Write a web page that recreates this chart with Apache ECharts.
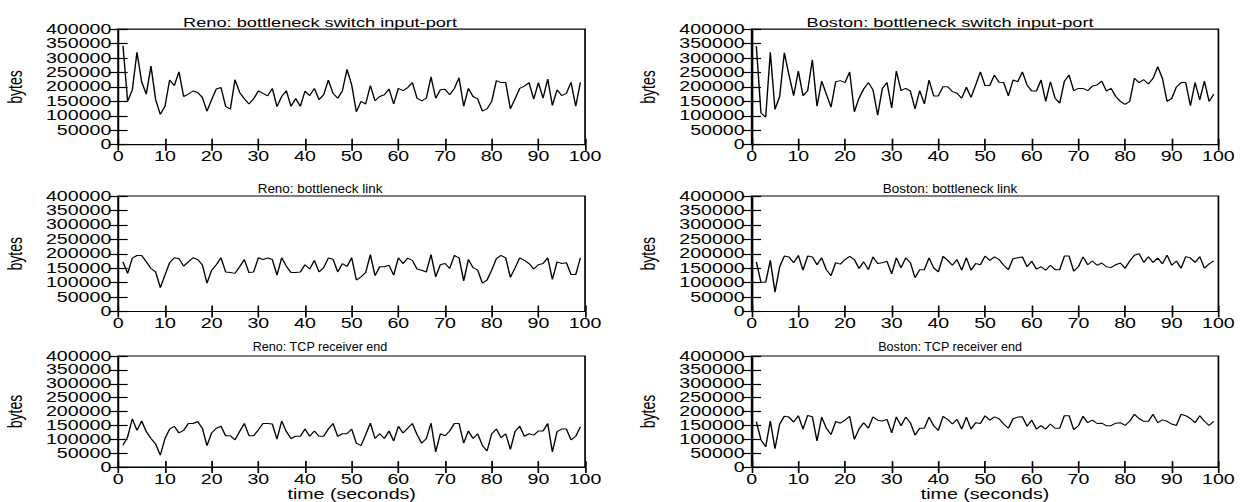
<!DOCTYPE html>
<html><head><meta charset="utf-8">
<script src="https://cdn.jsdelivr.net/npm/echarts@6/dist/echarts.min.js"></script>
<style>
html,body{margin:0;padding:0;background:#fff;overflow:hidden;}
#wrap{width:1247px;height:502px;overflow:hidden;position:relative;}
#chart{width:890.714px;height:502px;transform:scaleX(1.4);transform-origin:0 0;}
</style></head><body><div id="wrap"><div id="chart"></div></div>
<script>
// ---- data ----
const times = Array.from({length: 99}, (_, i) => i + 1);
const xTicks = [0,10,20,30,40,50,60,70,80,90,100];
const yTicks = [0,50000,100000,150000,200000,250000,300000,350000,400000];
const titles = [
  'Reno: bottleneck switch input-port', 'Boston: bottleneck switch input-port',
  'Reno: bottleneck link', 'Boston: bottleneck link',
  'Reno: TCP receiver end', 'Boston: TCP receiver end'
];
const renoSwitch = [343000,150000,190000,320000,218000,175000,272000,156000,105000,133000,
224000,205000,252000,167000,175000,186000,181000,164000,116000,156000,
193000,198000,133000,123000,225000,181000,159000,141000,159000,186000,
178000,169000,195000,132000,167000,187000,133000,160000,133000,186000,
170000,195000,156000,173000,224000,178000,161000,186000,261000,207000,
114000,150000,141000,205000,152000,167000,173000,193000,141000,195000,
187000,198000,215000,161000,152000,161000,235000,161000,190000,192000,
173000,195000,232000,133000,195000,167000,159000,116000,124000,150000,
222000,215000,215000,124000,159000,195000,203000,215000,158000,215000,
161000,227000,136000,190000,170000,178000,216000,133000,216000];
const bostonSwitch = [341000,110000,95000,320000,122000,167000,318000,241000,170000,255000,
170000,187000,294000,133000,220000,175000,130000,218000,222000,215000,
252000,114000,161000,193000,215000,190000,102000,195000,215000,127000,
255000,187000,195000,186000,124000,187000,141000,224000,169000,169000,
201000,201000,184000,178000,161000,199000,164000,207000,252000,205000,
205000,241000,216000,215000,169000,224000,218000,252000,207000,186000,
186000,224000,150000,218000,161000,144000,220000,241000,187000,195000,
195000,187000,203000,207000,220000,186000,195000,167000,150000,140000,
150000,230000,215000,225000,210000,230000,270000,230000,150000,160000,
200000,215000,215000,135000,215000,155000,220000,150000,175000];
const renoLink = [172000,132000,185000,194000,194000,172000,149000,137000,83000,126000,
169000,186000,183000,157000,172000,186000,180000,162000,98000,143000,
162000,186000,137000,135000,132000,155000,180000,135000,137000,186000,
180000,185000,180000,126000,186000,157000,135000,135000,137000,162000,
147000,177000,137000,152000,185000,181000,137000,166000,156000,186000,
109000,120000,135000,197000,124000,155000,155000,160000,126000,186000,
166000,185000,177000,147000,143000,137000,197000,120000,162000,166000,
149000,194000,186000,106000,180000,152000,143000,98000,109000,143000,
183000,194000,186000,118000,151000,186000,177000,166000,147000,162000,
166000,186000,111000,172000,166000,169000,128000,128000,186000];
const bostonLink = [172000,101000,101000,177000,67000,155000,192000,189000,169000,194000,
143000,192000,189000,162000,186000,145000,124000,169000,164000,180000,
191000,180000,149000,172000,145000,189000,166000,169000,174000,130000,
186000,151000,186000,169000,117000,145000,145000,186000,151000,137000,
191000,177000,160000,180000,143000,186000,143000,166000,162000,192000,
177000,189000,180000,160000,145000,183000,186000,189000,155000,174000,
147000,155000,143000,160000,145000,145000,192000,192000,140000,155000,
189000,162000,175000,160000,168000,155000,152000,162000,168000,150000,
175000,195000,200000,170000,190000,170000,185000,165000,195000,160000,
175000,150000,190000,185000,170000,190000,150000,165000,175000];
const renoRecv = [78000,109000,174000,132000,166000,128000,103000,83000,43000,103000,
137000,147000,123000,132000,157000,157000,164000,140000,77000,123000,
140000,147000,113000,113000,98000,128000,157000,113000,113000,134000,
157000,157000,155000,101000,166000,128000,103000,111000,111000,137000,
111000,130000,111000,111000,137000,157000,111000,120000,120000,137000,
86000,77000,117000,158000,103000,120000,103000,130000,94000,147000,
123000,140000,157000,117000,86000,103000,158000,55000,120000,113000,
130000,157000,157000,86000,130000,103000,120000,78000,58000,120000,
137000,106000,120000,64000,128000,147000,111000,120000,115000,130000,
130000,157000,55000,128000,137000,137000,98000,111000,145000];
const bostonRecv = [164000,98000,73000,166000,66000,155000,183000,180000,162000,185000,
137000,186000,181000,94000,180000,140000,117000,164000,158000,169000,
183000,100000,137000,160000,140000,181000,169000,166000,172000,123000,
181000,149000,180000,160000,115000,140000,140000,180000,149000,132000,
183000,172000,155000,172000,137000,180000,137000,160000,157000,185000,
169000,181000,174000,155000,140000,174000,180000,181000,147000,169000,
137000,149000,137000,155000,140000,140000,185000,185000,135000,149000,
183000,160000,169000,157000,158000,149000,149000,158000,160000,150000,
165000,190000,175000,165000,165000,190000,160000,170000,165000,155000,
150000,190000,185000,175000,160000,185000,165000,150000,165000];
const panels = [renoSwitch, bostonSwitch, renoLink, bostonLink, renoRecv, bostonRecv];

// ---- layout (unscaled coordinates; the chart is stretched 1.4x horizontally) ----
const FONT = 'Liberation Sans';
const colLeft = [84.5, 536.9];
const colCenter = [228.6, 678.6];
const gridW = 333.4;
const rowTop = [29.2, 196, 356];
const gridH = 115.5;
const titleMid = [22, 188.5, 347.5];
const titleSize = [13, 12, 12];
const titleSqueeze = [1, 0.8, 0.75];

const grid = [], xAxis = [], yAxis = [], series = [], graphic = [];
panels.forEach((vals, i) => {
  const r = Math.floor(i / 2), c = i % 2;
  grid.push({left: colLeft[c], top: rowTop[r], width: gridW, height: gridH,
    show: true, borderColor: '#000', borderWidth: 1.2, backgroundColor: 'transparent'});
  const lineStyle = {color: '#000', width: 1.2};
  xAxis.push({type: 'value', gridIndex: i, min: xTicks[0], max: xTicks[xTicks.length-1], interval: 10,
    position: 'bottom',
    axisLine: {show: true, onZero: false, lineStyle},
    axisTick: {show: true, inside: true, length: 6, lineStyle},
    axisLabel: {show: true, margin: 5, color: '#000', fontFamily: FONT, fontSize: 14,
      hideOverlap: false, formatter: v => String(v)},
    splitLine: {show: false},
    name: r === 2 ? 'time (seconds)' : '', nameLocation: 'middle', nameGap: 17,
    nameTextStyle: {color: '#000', fontFamily: FONT, fontSize: 14}});
  xAxis.push({type: 'value', gridIndex: i, min: 0, max: 100, interval: 10, position: 'top',
    axisLine: {show: false}, axisTick: {show: true, inside: true, length: 6, lineStyle},
    axisLabel: {show: false}, splitLine: {show: false}});
  yAxis.push({type: 'value', gridIndex: i, min: yTicks[0], max: yTicks[yTicks.length-1], interval: 50000,
    position: 'left',
    axisLine: {show: true, onZero: false, lineStyle},
    axisTick: {show: true, inside: true, length: 6.7, lineStyle},
    axisLabel: {show: true, margin: 5, color: '#000', fontFamily: FONT, fontSize: 14, lineHeight: 13,
      hideOverlap: false, formatter: v => String(v)},
    splitLine: {show: false},
    name: 'bytes', nameLocation: 'middle', nameGap: 66.5,
    nameTextStyle: {color: '#000', fontFamily: FONT, fontSize: 14}});
  yAxis.push({type: 'value', gridIndex: i, min: 0, max: 400000, interval: 50000, position: 'right',
    axisLine: {show: false}, axisTick: {show: true, inside: true, length: 6.7, lineStyle},
    axisLabel: {show: false}, splitLine: {show: false}});
  series.push({type: 'line', xAxisIndex: 2*i, yAxisIndex: 2*i,
    data: times.map((t, k) => [t, vals[k]]),
    showSymbol: false, symbol: 'none',
    lineStyle: {color: '#000', width: 1}, itemStyle: {color: '#000'},
    animation: false, silent: true});
  graphic.push({type: 'text', x: colCenter[c], y: titleMid[r], scaleX: titleSqueeze[r], silent: true,
    style: {text: titles[i], fill: '#000', font: titleSize[r] + 'px "' + FONT + '"',
      align: 'center', verticalAlign: 'middle'}});
});

const chart = echarts.init(document.getElementById('chart'), null, {renderer: 'svg'});
chart.setOption({animation: false, backgroundColor: '#fff', grid, xAxis, yAxis, series, graphic});
</script></body></html>
